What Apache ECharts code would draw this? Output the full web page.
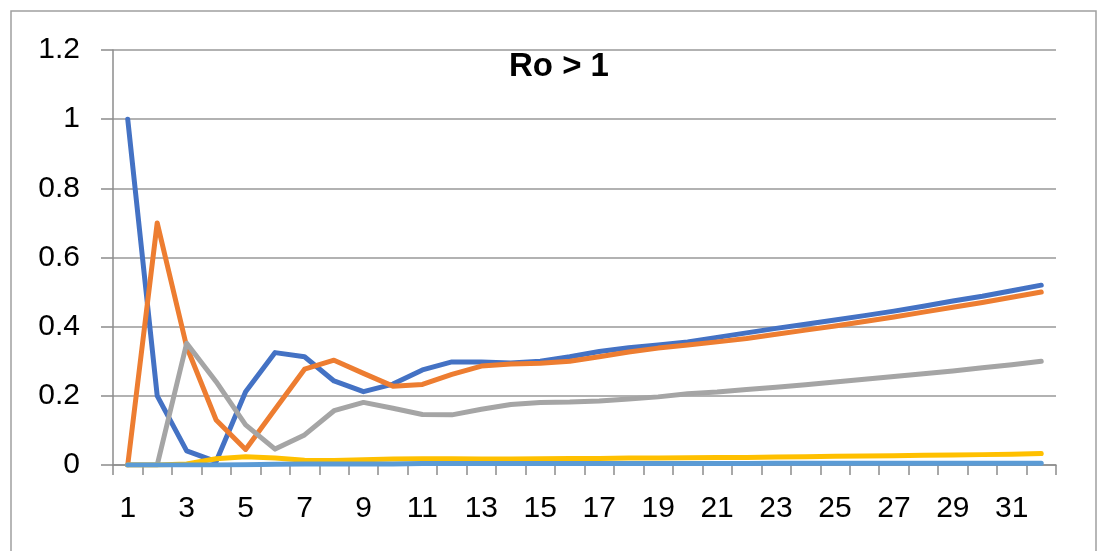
<!DOCTYPE html>
<html>
<head>
<meta charset="utf-8">
<script src="https://cdn.jsdelivr.net/npm/echarts@6/dist/echarts.min.js"></script>
<style>
  html, body { margin: 0; padding: 0; background: #fff; }
  #chart { width: 1099px; height: 551px; }
</style>
</head>
<body>
<div id="chart"></div>
<script>
// Time steps 1..32
const steps = Array.from({ length: 32 }, (_, i) => String(i + 1));

const seriesBlue = [1.0, 0.2, 0.041, 0.01, 0.212, 0.325, 0.313, 0.243, 0.212, 0.234, 0.275, 0.298,
  0.298, 0.295, 0.3, 0.313, 0.328, 0.339, 0.347, 0.356, 0.369, 0.382, 0.395, 0.407, 0.419, 0.432,
  0.445, 0.459, 0.474, 0.488, 0.504, 0.52];
const seriesOrange = [0, 0.7, 0.342, 0.13, 0.045, 0.161, 0.277, 0.303, 0.265, 0.228, 0.233, 0.262,
  0.286, 0.292, 0.294, 0.3, 0.313, 0.327, 0.338, 0.347, 0.356, 0.366, 0.378, 0.39, 0.402, 0.415,
  0.428, 0.442, 0.456, 0.47, 0.485, 0.5];
const seriesGray = [0, 0, 0.352, 0.241, 0.116, 0.046, 0.087, 0.157, 0.181, 0.164, 0.146, 0.145,
  0.161, 0.175, 0.181, 0.182, 0.185, 0.191, 0.197, 0.206, 0.211, 0.218, 0.225, 0.232, 0.24, 0.248,
  0.256, 0.264, 0.272, 0.281, 0.29, 0.3];
const seriesYellow = [0, 0, 0.003, 0.018, 0.024, 0.02, 0.014, 0.013, 0.015, 0.017, 0.018, 0.018,
  0.017, 0.017, 0.018, 0.019, 0.019, 0.02, 0.02, 0.021, 0.022, 0.022, 0.023, 0.024, 0.025, 0.026,
  0.027, 0.028, 0.029, 0.03, 0.031, 0.033];
const seriesLightBlue = [0, 0, 0, 0, 0.001, 0.002, 0.003, 0.003, 0.003, 0.003, 0.004, 0.004,
  0.004, 0.004, 0.004, 0.004, 0.004, 0.004, 0.004, 0.004, 0.004, 0.004, 0.005, 0.005, 0.005, 0.005,
  0.005, 0.005, 0.005, 0.005, 0.005, 0.005];

const yTicks = ['0', '0.2', '0.4', '0.6', '0.8', '1', '1.2'];

const palette = ['#4472C4', '#ED7D31', '#A5A5A5', '#FFC000', '#5B9BD5'];
const seriesData = [seriesBlue, seriesOrange, seriesGray, seriesYellow, seriesLightBlue];

const chart = echarts.init(document.getElementById('chart'), null, { renderer: 'canvas' });

const lineSeries = seriesData.map((data, i) => ({
  type: 'line',
  data: data,
  showSymbol: false,
  symbol: 'none',
  lineStyle: { color: palette[i], width: 5, cap: 'round', join: 'round' },
  itemStyle: { color: palette[i] },
  z: 2 + i,
  animation: false
}));

chart.setOption({
  backgroundColor: '#ffffff',
  animation: false,
  graphic: [{
    type: 'rect',
    shape: { x: 11, y: 11, width: 1085, height: 560 },
    style: { fill: 'none', stroke: '#a0a0a0', lineWidth: 1.5 },
    silent: true
  }],
  title: {
    text: 'Ro > 1',
    left: 554,
    top: 45,
    textAlign: 'center',
    textStyle: {
      fontFamily: 'Liberation Sans',
      fontWeight: 'bold',
      fontSize: 33,
      color: '#000'
    }
  },
  grid: { left: 113, right: 43, top: 50, bottom: 86, containLabel: false },
  xAxis: {
    type: 'category',
    data: steps,
    boundaryGap: true,
    axisLine: { show: true, lineStyle: { color: '#8c8c8c', width: 1.5 } },
    axisTick: { show: true, length: 10, interval: 0, lineStyle: { color: '#8c8c8c', width: 1.5 } },
    axisLabel: {
      interval: 1,
      margin: 29,
      fontFamily: 'Liberation Sans',
      fontSize: 30,
      color: '#000'
    },
    splitLine: { show: false }
  },
  yAxis: {
    type: 'value',
    min: 0,
    max: 1.2,
    interval: 0.2,
    axisLine: { show: true, lineStyle: { color: '#8c8c8c', width: 1.5 } },
    axisTick: { show: true, length: 12, lineStyle: { color: '#8c8c8c', width: 1.5 } },
    axisLabel: {
      margin: 33,
      fontFamily: 'Liberation Sans',
      fontSize: 30,
      color: '#000',
      formatter: (v) => yTicks[Math.round(v / 0.2)]
    },
    splitLine: { show: true, lineStyle: { color: '#999999', width: 1.5 } }
  },
  series: lineSeries
});
</script>
</body>
</html>
